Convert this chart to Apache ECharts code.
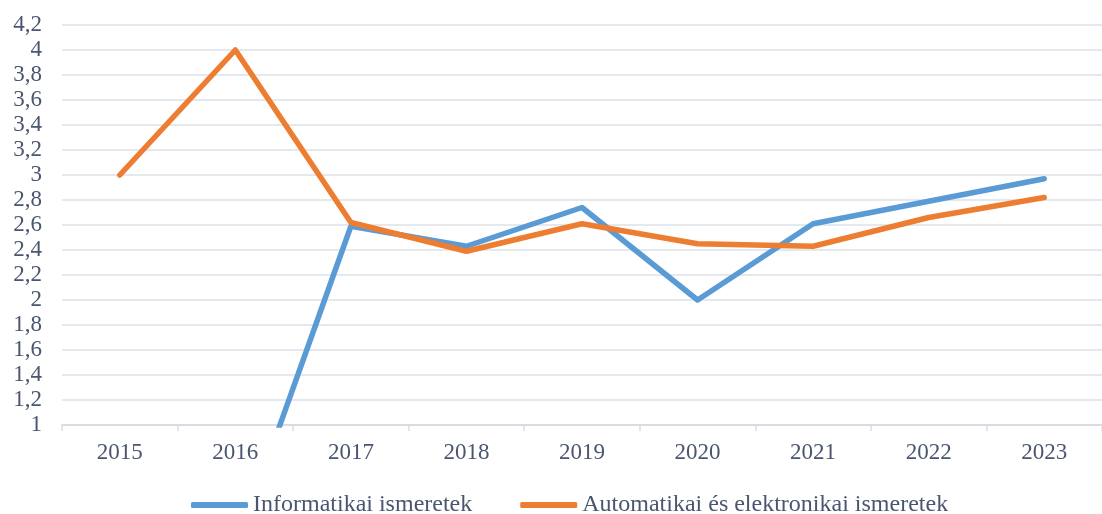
<!DOCTYPE html>
<html>
<head>
<meta charset="utf-8">
<script src="https://cdn.jsdelivr.net/npm/echarts@6/dist/echarts.min.js"></script>
<style>
  html, body { margin: 0; padding: 0; background: #fff; }
  #chart { width: 1102px; height: 514px; }
</style>
</head>
<body>
<div id="chart"></div>
<script>
const years = ["2015", "2016", "2017", "2018", "2019", "2020", "2021", "2022", "2023"];
const informatikai = [0, 0, 2.59, 2.43, 2.74, 2.0, 2.61, 2.79, 2.97];
const automatikai = [3.0, 4.0, 2.62, 2.39, 2.61, 2.45, 2.43, 2.66, 2.82];
const seriesNames = ["Informatikai ismeretek", "Automatikai és elektronikai ismeretek"];

const textColor = "#4a5670";
const font = "'Liberation Serif', 'Times New Roman', serif";

const chart = echarts.init(document.getElementById("chart"));

const makeLine = (name, data, color) => ({
  name: name,
  type: "line",
  data: data,
  symbol: "none",
  clip: true,
  itemStyle: { color: color },
  lineStyle: { color: color, width: 5.5, cap: "round", join: "round" }
});

chart.setOption({
  animation: false,
  textStyle: { fontFamily: font },
  grid: { left: 62, right: -4, top: 25, bottom: 89, containLabel: false },
  legend: {
    top: 493,
    left: 191,
    padding: 0,
    itemWidth: 57,
    itemHeight: 6,
    itemGap: 48,
    icon: "roundRect",
    textStyle: { color: textColor, fontSize: 24, fontFamily: font },
    data: seriesNames
  },
  xAxis: {
    type: "category",
    data: years,
    boundaryGap: true,
    axisLine: { lineStyle: { color: "#d9dde3", width: 2 } },
    axisTick: { show: true, length: 6, lineStyle: { color: "#d9dde3", width: 1.5 } },
    axisLabel: { color: textColor, fontSize: 23, margin: 16, fontFamily: font }
  },
  yAxis: {
    type: "value",
    min: 1,
    max: 4.2,
    interval: 0.2,
    axisLine: { show: false },
    axisTick: { show: false },
    splitLine: { lineStyle: { color: "#dde1e7", width: 1.5 } },
    axisLabel: {
      color: textColor,
      fontSize: 23,
      margin: 20,
      fontFamily: font,
      formatter: (v) => String(+v.toFixed(1)).replace(".", ",")
    }
  },
  series: [
    makeLine(seriesNames[0], informatikai, "#5b9bd5"),
    makeLine(seriesNames[1], automatikai, "#ed7d31")
  ]
});
</script>
</body>
</html>
